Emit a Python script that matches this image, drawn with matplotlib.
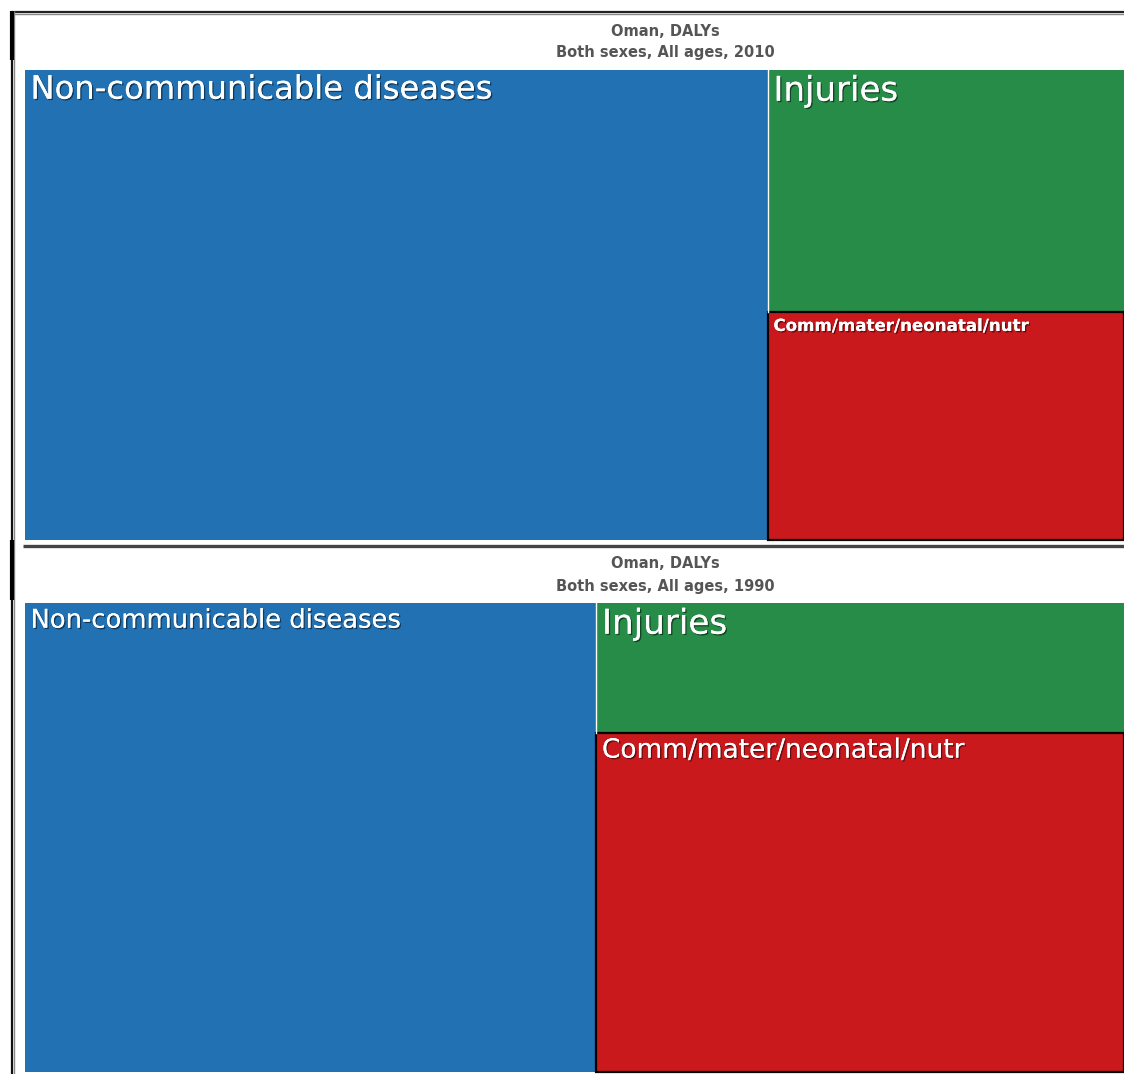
import matplotlib
matplotlib.use("Agg")
import matplotlib.pyplot as plt
from matplotlib.patches import Rectangle
import matplotlib.patheffects as pe

W, H = 1124, 1074
DPI = 100

# ---- data (share of DALYs, %) ----
causes = ["Non-communicable diseases", "Injuries", "Comm/mater/neonatal/nutr"]
colors = ["#2271B3", "#268C47", "#C9191D"]
values_2010 = [67.6, 16.7, 15.7]
values_1990 = [52.0, 13.3, 34.7]
titles = ["Oman, DALYs", "Oman, DALYs"]
subtitles = ["Both sexes, All ages, 2010", "Both sexes, All ages, 1990"]

# label font sizes (pt) per panel
label_sizes_2010 = [23.2, 24.5, 12]
label_sizes_1990 = [18.6, 24.6, 19]
label_weights_2010 = ["normal", "normal", "bold"]
label_weights_1990 = ["normal", "normal", "normal"]

fig = plt.figure(figsize=(W / DPI, H / DPI), dpi=DPI)
fig.patch.set_facecolor("white")

# background axes in pixel coordinates for frame lines and titles
bg = fig.add_axes([0, 0, 1, 1])
bg.set_xlim(0, W)
bg.set_ylim(H, 0)
bg.axis("off")

# frame lines
bg.plot([11, W], [11.5, 11.5], color="#222222", lw=1.6, solid_capstyle="butt")
bg.plot([11, W], [13.5, 13.5], color="#888888", lw=1.0, solid_capstyle="butt")
bg.plot([12, 12], [11, H], color="#111111", lw=1.6, solid_capstyle="butt")
bg.plot([14.2, 14.2], [11, H], color="#888888", lw=1.0, solid_capstyle="butt")
bg.plot([11.5, 11.5], [11, 60], color="#000000", lw=3.0, solid_capstyle="butt")
bg.plot([11.5, 11.5], [540, 600], color="#000000", lw=3.0, solid_capstyle="butt")
# separator between panels
bg.plot([23, W], [546, 546], color="#444444", lw=2.4, solid_capstyle="butt")


def px_rect(x, y, w, h):
    return [x / W, 1 - (y + h) / H, w / W, h / H]


def treemap(rect_px, values, sizes, weights, title, subtitle, title_y):
    cx = 665
    bg.text(cx, title_y, title, ha="center", va="center", fontsize=10.5,
            color="#555555", fontweight="bold", family="DejaVu Sans")
    bg.text(cx, title_y + 22, subtitle, ha="center", va="center", fontsize=10.5,
            color="#555555", fontweight="bold", family="DejaVu Sans")
    ax = fig.add_axes(px_rect(*rect_px))
    ax.set_xlim(0, 1)
    ax.set_ylim(1, 0)
    ax.axis("off")
    total = sum(values)
    # first item: full-height column; rest stacked vertically
    w0 = values[0] / total
    rects = [(0, 0, w0, 1)]
    rest = sum(values[1:])
    y = 0
    for v in values[1:]:
        h = v / rest
        rects.append((w0, y, 1 - w0, h))
        y += h
    for i, (x, y, w, h) in enumerate(rects):
        ec = "black" if i == 2 else "none"
        lw = 1.6 if i == 2 else 0
        ax.add_patch(Rectangle((x, y), w, h, facecolor=colors[i],
                               edgecolor=ec, lw=lw, clip_on=False, zorder=2 + (i == 2)))
        if i == 1:
            ax.plot([x, x], [y, y + h], color="white", lw=1.0, zorder=4)
        ax.text(x + 0.005, y + 0.01, causes[i], ha="left", va="top",
                fontsize=sizes[i], fontweight=weights[i], color="white",
                family="DejaVu Sans", zorder=5,
                path_effects=[pe.withSimplePatchShadow(offset=(1, -1), shadow_rgbFace="black", alpha=0.5),
                              pe.Normal()])
    return ax


treemap((25, 70, 1099, 470), values_2010, label_sizes_2010, label_weights_2010,
        titles[0], subtitles[0], 31)
treemap((25, 603, 1099, 469), values_1990, label_sizes_1990, label_weights_1990,
        titles[1], subtitles[1], 564)

fig.savefig("out.png", dpi=DPI, facecolor="white")
